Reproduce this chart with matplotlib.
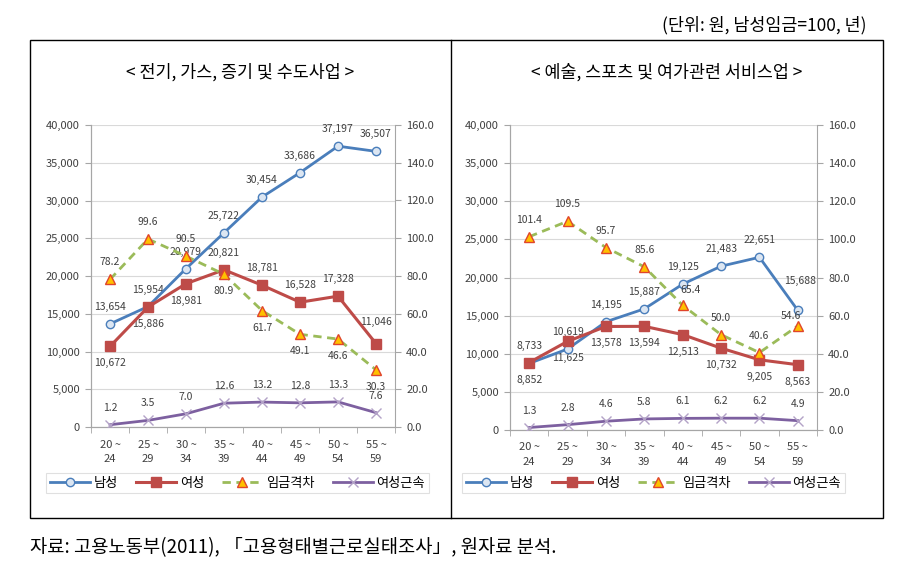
import matplotlib
matplotlib.use("Agg")
import matplotlib.pyplot as plt
from matplotlib.patches import Rectangle
from matplotlib.lines import Line2D
from matplotlib.ticker import FuncFormatter

plt.rcParams['font.family'] = ['Noto Sans CJK KR', 'DejaVu Sans']

# data
ages = ["20 ~\n24", "25 ~\n29", "30 ~\n34", "35 ~\n39", "40 ~\n44", "45 ~\n49", "50 ~\n54", "55 ~\n59"]

util_title = "< 전기, 가스, 증기 및 수도사업 >"
util_men = [13654, 15954, 20979, 25722, 30454, 33686, 37197, 36507]
util_women = [10672, 15886, 18981, 20821, 18781, 16528, 17328, 11046]
util_gap = [78.2, 99.6, 90.5, 80.9, 61.7, 49.1, 46.6, 30.3]
util_tenure = [1.2, 3.5, 7.0, 12.6, 13.2, 12.8, 13.3, 7.6]

arts_title = "< 예술, 스포츠 및 여가관련 서비스업 >"
arts_men = [8733, 10619, 14195, 15887, 19125, 21483, 22651, 15688]
arts_women = [8852, 11625, 13578, 13594, 12513, 10732, 9205, 8563]
arts_gap = [101.4, 109.5, 95.7, 85.6, 65.4, 50.0, 40.6, 54.6]
arts_tenure = [1.3, 2.8, 4.6, 5.8, 6.1, 6.2, 6.2, 4.9]

series_names = ["남성", "여성", "임금격차", "여성근속"]

# label placement in pixels (dx, dy), + is up
A, B = (0, 17), (0, -17)
util_place = {
    "men": [A] * 8,
    "women": [B, B, B, A, A, A, A, (0, 22)],
    "gap": [A, A, A, B, B, B, B, B],
    "tenure": [A] * 8,
}
arts_place = {
    "men": [A] * 7 + [(2, 29)],
    "women": [B] * 8,
    "gap": [A] * 4 + [(8, 15), A, A, (-7, 10)],
    "tenure": [A] * 8,
}

BLUE = "#4A7EBB"
RED = "#BE4B48"
GREEN = "#9BBB59"
PURPLE = "#7D60A0"
TXT = "#404040"
AX = "#A6A6A6"

W, H = 905, 565
fig = plt.figure(figsize=(W / 100, H / 100), dpi=100)


def px(x0, y0, w, h):
    return [x0 / W, 1 - (y0 + h) / H, w / W, h / H]


def label(ax, xs, ys, fmt, place):
    for x, y, (dx, dy) in zip(xs, ys, place):
        ax.annotate(fmt(y), (x, y), xytext=(dx * 0.72, dy * 0.72), textcoords="offset points",
                    ha="center", va="center", fontsize=7.5, color=TXT)


def panel(rect, men, women, gap, tenure, place):
    ax = fig.add_axes(rect)
    ax2 = ax.twinx()
    x = list(range(len(ages)))

    ax.set_xlim(-0.5, len(ages) - 0.5)
    ax.set_ylim(0, 40000)
    ax2.set_ylim(0, 160)
    ax.set_yticks(range(0, 40001, 5000))
    ax2.set_yticks(range(0, 161, 20))
    ax.yaxis.set_major_formatter(FuncFormatter(lambda v, p: f"{int(v):,}"))
    ax2.yaxis.set_major_formatter(FuncFormatter(lambda v, p: f"{v:.1f}"))
    ax.grid(axis="y", color="#D9D9D9", lw=0.8)
    ax.set_axisbelow(True)

    ax.set_xticks(x)
    ax.set_xticklabels(ages, fontsize=8, color=TXT, linespacing=1.6)
    ax.set_xticks([i - 0.5 for i in range(len(ages) + 1)], minor=True)
    ax.tick_params(axis="x", which="major", length=0, pad=9)
    ax.tick_params(axis="x", which="minor", length=4, color=AX)
    ax.tick_params(axis="y", labelsize=8, labelcolor=TXT, length=4, color=AX, pad=4)
    ax2.tick_params(axis="y", labelsize=8, labelcolor=TXT, length=4, color=AX, pad=4)
    for a in (ax, ax2):
        a.spines["top"].set_visible(False)
        for s in ("left", "right", "bottom"):
            a.spines[s].set_color(AX)
    ax.spines["right"].set_visible(False)

    l1, = ax.plot(x, men, color=BLUE, lw=2, marker="o", ms=6, mfc="#DCE6F2", mec=BLUE, mew=1, zorder=4)
    l2, = ax.plot(x, women, color=RED, lw=2.2, marker="s", ms=7, mfc=RED, mec=RED, zorder=4)
    l3, = ax2.plot(x, gap, color=GREEN, lw=2, ls=(0, (3, 2)), marker="^", ms=7, mfc="#FFC000",
                   mec="#E0452B", mew=1, zorder=4)
    l4, = ax2.plot(x, tenure, color=PURPLE, lw=2, marker="x", ms=7, mec="#B3A2C7", mew=1, zorder=4)

    label(ax, x, men, lambda v: f"{v:,}", place["men"])
    label(ax, x, women, lambda v: f"{v:,}", place["women"])
    label(ax2, x, gap, lambda v: f"{v:.1f}", place["gap"])
    label(ax2, x, tenure, lambda v: f"{v:.1f}", place["tenure"])
    return ax, [l1, l2, l3, l4]


axL, hL = panel(px(91, 125, 304, 302), util_men, util_women, util_gap, util_tenure, util_place)
axR, hR = panel(px(510, 125, 307, 305), arts_men, arts_women, arts_gap, arts_tenure, arts_place)

for handles, (x0, x1) in ((hL, (60, 415)), (hR, (482, 825))):
    cx = (x0 + x1) / 2 / W
    leg = fig.legend(handles, series_names, ncol=4, loc="center",
                     bbox_to_anchor=(cx, 1 - 483 / H), fontsize=9.5, frameon=True,
                     handlelength=3, columnspacing=1.4, handletextpad=0.3,
                     borderpad=0.3, fancybox=False)
    leg.get_frame().set_edgecolor("#D9D9D9")
    leg.get_frame().set_linewidth(0.8)

# frame around panels
fig.patches.append(Rectangle((30 / W, 1 - 518 / H), 853 / W, 478 / H, transform=fig.transFigure,
                             fill=False, ec="black", lw=1))
fig.lines.append(Line2D([451 / W, 451 / W], [1 - 518 / H, 1 - 40 / H], transform=fig.transFigure,
                        color="black", lw=1))

fig.text(240 / W, 1 - 72 / H, util_title, ha="center", va="center", fontsize=12.5, color="black")
fig.text(667 / W, 1 - 72 / H, arts_title, ha="center", va="center", fontsize=12.5, color="black")
fig.text(866 / W, 1 - 25 / H, "(단위: 원, 남성임금=100, 년)", ha="right", va="center", fontsize=12.5)
fig.text(30 / W, 1 - 548 / H, "자료: 고용노동부(2011), 「고용형태별근로실태조사」, 원자료 분석.",
         ha="left", va="center", fontsize=13.5)

fig.savefig("out.png", dpi=100)
